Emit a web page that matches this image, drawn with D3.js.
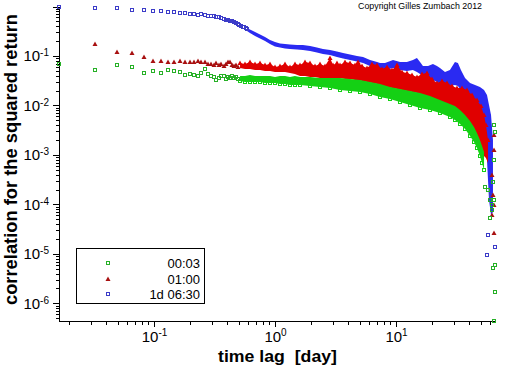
<!DOCTYPE html>
<html lang="en">
<head>
<meta charset="UTF-8"/>
<title>Correlation for the squared return</title>
<script src="https://d3js.org/d3.v7.min.js"></script>
<style>
  body { margin: 0; background: #fff; }
  svg { display: block; font-family: "Liberation Sans", Arial, sans-serif; }
  .axis path, .axis line { fill: none; stroke: #000; shape-rendering: crispEdges; }
  .axis text { font-size: 15px; fill: #000; font-family: "Liberation Sans", Arial, sans-serif; }
  .title { font-weight: bold; fill: #000; white-space: pre; }
  .legend rect { fill: #fff; stroke: #000; shape-rendering: crispEdges; }
  .legend text { font-size: 13px; fill: #000; }
</style>
</head>
<body>
<script>
// time lags (day) of the first, well separated points
const earlyLag = [0.0164, 0.0328, 0.0492, 0.0656, 0.082, 0.0984, 0.1148, 0.1311, 0.1475, 0.1639,
                  0.1803, 0.1967, 0.2131, 0.2295, 0.2459, 0.2623, 0.2787, 0.2951, 0.3115, 0.3279,
                  0.3443, 0.3607, 0.377, 0.3934, 0.4098, 0.4262, 0.4426, 0.459, 0.4754, 0.4918,
                  0.5082, 0.5246, 0.541, 0.5574, 0.5738, 0.5902]

const greenEarly = [0.069, 0.052, 0.066, 0.06, 0.045, 0.05, 0.045, 0.052, 0.05, 0.048,
                    0.041, 0.043, 0.041, 0.040, 0.045, 0.055, 0.043, 0.040, 0.038, 0.033,
                    0.036, 0.040, 0.040, 0.035, 0.038, 0.036, 0.040, 0.036, 0.038, 0.035]
const redEarly   = [null, 0.175, 0.12, 0.115, 0.095, 0.079, 0.079, 0.075, 0.077, 0.079,
                    0.074, 0.077, 0.075, 0.078, 0.076, 0.074, 0.070, 0.069, 0.067, 0.072,
                    0.066, 0.069, 0.064, 0.069, 0.076, 0.077, 0.067, 0.063, 0.066, 0.06]
const blueEarly  = [0.977, 0.93, 0.93, 0.85, 0.85, 0.81, 0.81, 0.77, 0.77, 0.74,
                    0.74, 0.705, 0.705, 0.67, 0.69, 0.66, 0.655, 0.64, 0.63, 0.61,
                    0.60, 0.577, 0.56, 0.546, 0.533, 0.517, 0.50, 0.48, 0.464, 0.443,
                    0.423, 0.408, 0.394, 0.38, 0.363, 0.35]

// dense part: [lag, lower edge, upper edge] of the cloud of points
const greenBand = [
  [0.514, 0.0313, 0.0394], [0.565, 0.0298, 0.0394], [0.621, 0.0298, 0.0413], [0.684, 0.0298, 0.0394],
  [0.752, 0.0298, 0.0394], [0.827, 0.0285, 0.0394], [0.909, 0.0285, 0.0394], [1.0, 0.0285, 0.0376],
  [1.10, 0.0272, 0.0394], [1.21, 0.0272, 0.0394], [1.33, 0.0259, 0.0376], [1.46, 0.0259, 0.0394],
  [1.61, 0.0259, 0.0376], [1.95, 0.0248, 0.0376], [2.35, 0.0236, 0.0359], [2.85, 0.0226, 0.0359],
  [3.44, 0.0206, 0.0359], [4.17, 0.0196, 0.0343], [5.04, 0.0187, 0.0327], [6.10, 0.0171, 0.0298],
  [7.38, 0.01485, 0.0272], [8.92, 0.01353, 0.0236], [10.8, 0.01177, 0.0215], [13.1, 0.01023, 0.0196],
  [15.8, 0.0089, 0.0179], [19.1, 0.00811, 0.0155], [23.1, 0.00706, 0.01292], [27.9, 0.00586, 0.01073],
  [30.7, 0.00509, 0.00977], [33.8, 0.00423, 0.00811], [37.2, 0.00335, 0.00643], [40.9, 0.00242, 0.00486],
  [44.1, 0.00183, 0.00368], [46.7, 0.00138, 0.00278], [49.4, 0.000954, 0.00201], [51.4, 0.000689, 0.00152],
  [53.4, 0.000498, 0.00115]
]
const redBand = [
  [0.514, 0.0572, 0.0722], [0.565, 0.0546, 0.0689], [0.621, 0.0546, 0.0756], [0.684, 0.0522, 0.0689],
  [0.752, 0.0522, 0.0722], [0.827, 0.0498, 0.0658], [0.909, 0.0498, 0.0689], [1.0, 0.0475, 0.0599],
  [1.10, 0.0475, 0.0628], [1.21, 0.0475, 0.0689], [1.33, 0.0453, 0.0599], [1.46, 0.0433, 0.0689],
  [1.61, 0.0394, 0.0658], [1.77, 0.0394, 0.0756], [1.95, 0.0376, 0.0722], [2.14, 0.0376, 0.0628],
  [2.35, 0.0359, 0.0689], [2.59, 0.0359, 0.0628], [2.85, 0.0359, 0.0911], [3.02, 0.0359, 0.0658],
  [3.25, 0.0359, 0.0722], [3.44, 0.0359, 0.0658], [3.79, 0.0343, 0.0756], [4.17, 0.0343, 0.0722],
  [4.58, 0.0327, 0.0658], [4.85, 0.0327, 0.0756], [5.24, 0.0313, 0.0628], [5.76, 0.0298, 0.0572],
  [6.34, 0.0285, 0.0689], [6.97, 0.0272, 0.0658], [7.66, 0.0248, 0.0546], [8.43, 0.0236, 0.0599],
  [9.27, 0.0226, 0.0522], [10.2, 0.0215, 0.0658], [11.2, 0.0206, 0.0475], [12.3, 0.0196, 0.0453],
  [13.6, 0.0187, 0.0413], [14.9, 0.0179, 0.0376], [16.4, 0.0163, 0.0433], [18.0, 0.0155, 0.0453],
  [19.8, 0.01417, 0.0343], [21.8, 0.01292, 0.0285], [24.0, 0.01177, 0.0313], [26.4, 0.01023, 0.0285],
  [29.0, 0.00933, 0.0248], [31.9, 0.00811, 0.0226], [35.1, 0.00643, 0.0226], [38.6, 0.00443, 0.0206],
  [42.5, 0.00278, 0.0163], [46.7, 0.00159, 0.01292], [50.4, 0.00115, 0.00977], [53.4, 0.000954, 0.00643],
  [55.4, 0.00087, 0.00404], [57.6, 0.000689, 0.00201]
]
const blueBand = [
  [0.587, 0.320, 0.368], [0.621, 0.291, 0.343], [0.684, 0.253, 0.305], [0.752, 0.226, 0.272],
  [0.827, 0.201, 0.242], [0.909, 0.175, 0.210], [1.0, 0.156, 0.192], [1.10, 0.149, 0.179],
  [1.21, 0.142, 0.175], [1.33, 0.139, 0.171], [1.52, 0.135, 0.167], [1.70, 0.132, 0.167],
  [1.95, 0.126, 0.159], [2.22, 0.118, 0.149], [2.49, 0.110, 0.139], [2.85, 0.105, 0.132],
  [3.25, 0.0954, 0.123], [3.65, 0.089, 0.115], [4.17, 0.083, 0.107], [4.76, 0.0774, 0.10],
  [5.34, 0.0722, 0.0954], [6.10, 0.0628, 0.083], [6.97, 0.0572, 0.0756], [7.38, 0.0546, 0.0722],
  [8.11, 0.0522, 0.0722], [9.45, 0.0572, 0.083], [10.8, 0.0522, 0.0756], [12.3, 0.0498, 0.0756],
  [13.8, 0.0522, 0.083], [14.9, 0.0475, 0.0911], [15.8, 0.0433, 0.0756], [16.7, 0.0394, 0.0628],
  [18.4, 0.0359, 0.0628], [20.2, 0.0327, 0.0689], [21.8, 0.0298, 0.0628], [23.1, 0.0272, 0.0572],
  [25.4, 0.0248, 0.0475], [27.9, 0.0248, 0.0522], [30.7, 0.0259, 0.0756], [32.5, 0.0248, 0.0722],
  [34.4, 0.0206, 0.0522], [37.2, 0.0163, 0.0359], [40.9, 0.0129, 0.0285], [45.0, 0.01123, 0.0259],
  [49.4, 0.0089, 0.0236], [53.4, 0.00509, 0.0206], [56.5, 0.000793, 0.0163], [58.7, 0.000123, 0.01023],
  [61.0, 6.14e-5, 0.00643], [63.3, 7.06e-5, 0.00201]
]

// scattered points at the largest lags: [lag, value]
const greenTail = [[64.5, 4.0e-3], [65.5, 2.9e-3], [64.5, 7.9e-4], [63.3, 2.85e-4], [54.4, 2.26e-4],
                   [57.6, 1.96e-4], [59.8, 1.23e-4], [64.5, 1.23e-4], [62.1, 9.8e-5], [62.1, 7.7e-5],
                   [59.8, 5.3e-5], [65.5, 6.0e-6], [63.3, 5.2e-6], [65.5, 1.7e-6], [64.5, 4.5e-7]]
const redTail   = [[64.5, 2.54e-3], [64.5, 1.26e-3], [62.1, 3.9e-4], [63.3, 1.56e-4], [64.5, 9.8e-5],
                   [62.1, 6.2e-5], [64.5, 2.66e-5]]
const blueTail  = [[61.0, 1.56e-4], [57.6, 2.4e-5], [65.5, 1.38e-5], [56.5, 9.55e-6]]

const seriesNames = ["00:03", "01:00", "1d 06:30"]
const xExponents = [-1, 0, 1]
const yExponents = [-6, -5, -4, -3, -2, -1]

const outerWidth = 512, outerHeight = 366
const plotLeft = 59, plotWidth = 436
const plotTop = 6.5, plotBottom = 321

const xScale = d3.scaleLog().domain([0.01639, 65.8]).range([0, plotWidth])
const yScale = d3.scaleLog().domain([4.4e-7, 1]).range([plotBottom, plotTop])

const svg = d3.select("body").append("svg")
    .attr("width", outerWidth)
    .attr("height", outerHeight)

const g = svg.append("g").attr("transform", `translate(${plotLeft}, 0)`)

// minor ticks: 2..9 in every decade inside the domain
function minorTicks(scale, e0, e1) {
  const [lo, hi] = scale.domain(), out = []
  for (let e = e0; e <= e1; e++)
    for (let m = 2; m <= 9; m++) {
      const v = m * Math.pow(10, e)
      if (v >= lo && v <= hi) out.push(v)
    }
  return out
}

function powerLabels(sel, dyExp) {
  sel.selectAll(".tick text").each(function(d) {
    const t = d3.select(this)
    const e = Math.round(Math.log10(d))
    t.text(null)
    t.append("tspan").text("10")
    t.append("tspan").attr("dy", dyExp).attr("font-size", "10px").text(String(e))
  })
}

// axes
g.append("g").attr("class", "axis")
    .attr("transform", `translate(0, ${plotBottom})`)
    .call(d3.axisBottom(xScale).tickValues(minorTicks(xScale, -2, 1)).tickSize(4).tickSizeOuter(0).tickFormat(""))
g.append("g").attr("class", "axis")
    .attr("transform", `translate(0, ${plotBottom})`)
    .call(d3.axisBottom(xScale).tickValues(xExponents.map(e => Math.pow(10, e))).tickSize(6).tickSizeOuter(0).tickPadding(4.5))
    .call(a => powerLabels(a, "-6px"))

g.append("g").attr("class", "axis")
    .call(d3.axisLeft(yScale).tickValues(minorTicks(yScale, -7, -1)).tickSize(3).tickSizeOuter(0).tickFormat(""))
g.append("g").attr("class", "axis")
    .call(d3.axisLeft(yScale).tickValues([1]).tickSize(6).tickSizeOuter(0).tickFormat(""))
g.append("g").attr("class", "axis")
    .call(d3.axisLeft(yScale).tickValues(yExponents.map(e => Math.pow(10, e))).tickSize(6).tickSizeOuter(0).tickPadding(4))
    .call(a => powerLabels(a, "-5px"))

// marks
const px = d => Math.round(xScale(d[0]))
const py = d => Math.round(yScale(d[1]))

function band(data, color) {
  g.append("path")
      .datum(data)
      .attr("fill", color)
      .attr("d", d3.area()
          .x(d => xScale(d[0]))
          .y0(d => yScale(d[1]))
          .y1(d => yScale(d[2])))
}

function squares(data, color) {
  g.append("g").selectAll("rect")
    .data(data)
    .join("rect")
      .attr("x", d => px(d) - 1.5)
      .attr("y", d => py(d) - 1.5)
      .attr("width", 3)
      .attr("height", 3)
      .attr("fill", "none")
      .attr("stroke", color)
      .attr("stroke-width", 1)
}

function triangles(data, color) {
  g.append("g").selectAll("path")
    .data(data)
    .join("path")
      .attr("fill", color)
      .attr("d", d => `M${px(d)},${py(d) - 2.5}L${px(d) + 2.5},${py(d) + 2}L${px(d) - 2.5},${py(d) + 2}Z`)
}

const early = vals => vals.map((v, i) => [earlyLag[i], v]).filter(d => d[1] != null)
const upperEdge = rows => rows.map(d => [d[0], d[2]])
const lowerEdge = rows => rows.map(d => [d[0], d[1]])

const colors = {
  green: {band: "#14d014", mark: "#26b026"},
  red:   {band: "#e00000", mark: "#a81010"},
  blue:  {band: "#2a2af2", mark: "#3c3cc8"}
}

band(blueBand, colors.blue.band)
squares(early(blueEarly), colors.blue.mark)
squares(blueTail, colors.blue.mark)

band(redBand, colors.red.band)
triangles(upperEdge(redBand), colors.red.band)
triangles(early(redEarly), colors.red.mark)
triangles(redTail, colors.red.mark)

band(greenBand, colors.green.band)
squares(lowerEdge(greenBand), colors.green.band)
squares(early(greenEarly), colors.green.mark)
squares(greenTail, colors.green.mark)

// titles
svg.append("text").attr("class", "title")
    .attr("x", 218).attr("y", 362)
    .attr("font-size", 17)
    .attr("textLength", 119).attr("lengthAdjust", "spacingAndGlyphs")
    .text("time lag  [day]")

svg.append("text").attr("class", "title")
    .attr("transform", "translate(17, 305) rotate(-90)")
    .attr("font-size", 19)
    .attr("textLength", 291).attr("lengthAdjust", "spacingAndGlyphs")
    .text("correlation for the squared return")

svg.append("text")
    .attr("x", 358).attr("y", 9)
    .attr("font-size", 8.5)
    .attr("textLength", 124).attr("lengthAdjust", "spacingAndGlyphs")
    .text("Copyright Gilles Zumbach 2012")

// legend
const legend = svg.append("g").attr("class", "legend")
legend.append("rect")
    .attr("x", 76.5).attr("y", 248.5)
    .attr("width", 128).attr("height", 55)

const rows = [263, 279, 294]
const markX = 108
legend.append("rect")
    .attr("x", markX - 1.5).attr("y", rows[0] - 1.5).attr("width", 3).attr("height", 3)
    .style("fill", "none").style("stroke", colors.green.mark).style("shape-rendering", "auto")
legend.append("path")
    .attr("fill", colors.red.mark)
    .attr("d", `M${markX},${rows[1] - 2.5}L${markX + 2.5},${rows[1] + 2}L${markX - 2.5},${rows[1] + 2}Z`)
legend.append("rect")
    .attr("x", markX - 1.5).attr("y", rows[2] - 1.5).attr("width", 3).attr("height", 3)
    .style("fill", "none").style("stroke", colors.blue.mark).style("shape-rendering", "auto")

legend.selectAll("text.name")
  .data(seriesNames)
  .join("text")
    .attr("class", "name")
    .attr("x", 200)
    .attr("y", (d, i) => rows[i] + 5)
    .attr("text-anchor", "end")
    .text(d => d)
</script>
</body>
</html>
